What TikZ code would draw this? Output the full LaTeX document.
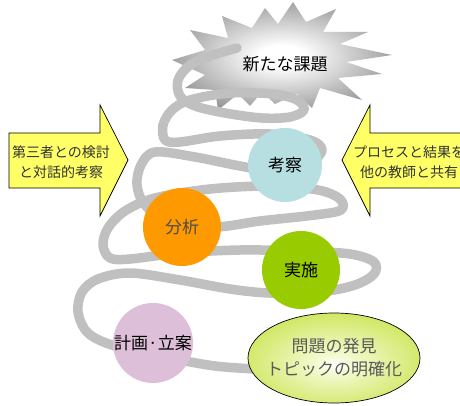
\documentclass[tikz,border=0pt]{standalone}
\usepackage{fontspec}
\setmainfont{Noto Sans CJK JP}
\definecolor{ellouter}{HTML}{C8E34A}
\definecolor{ellmid}{HTML}{F2F9CC}
\pgfdeclareradialshading{starshade}{\pgfpoint{0bp}{0bp}}{color(0bp)=(white); color(5bp)=(white); color(28bp)=(black!42); color(50bp)=(black!55)}
\pgfdeclareradialshading{ellshade}{\pgfpoint{0bp}{-4bp}}{color(0bp)=(white); color(6bp)=(ellmid); color(32bp)=(ellouter); color(50bp)=(ellouter)}
\begin{document}
\begin{tikzpicture}[x=1pt,y=-1pt,
  spiralline/.style={draw=spiralgray,line width=9.5pt,line cap=round,line join=round},
  bubble/.style={circle,inner sep=0pt,text=black,font=\fontsize{17}{20}\selectfont},
  arrowshape/.style={fill=arrowyellow,draw=black,line width=0.7pt,line join=miter},
  arrowtext/.style={align=center,text=darktext,font=\fontsize{14}{20}\selectfont,inner sep=0pt}
]
\definecolor{spiralgray}{HTML}{C0C0C0}
\definecolor{arrowyellow}{HTML}{FFFF66}
\definecolor{darktext}{HTML}{333333}
\definecolor{kousatsu}{HTML}{B7DFE2}
\definecolor{bunseki}{HTML}{FF9900}
\definecolor{jisshi}{HTML}{99CC00}
\definecolor{keikaku}{HTML}{DDBFD9}
\useasboundingbox (0,0) rectangle (460,406);
% star
\shade[shading=starshade]
  (293,2) -- (306,22) -- (336,9) -- (323,32) -- (368,32) -- (340,44) --
  (392,55) -- (346,62) -- (382,74) -- (338,78) -- (362,100) -- (320,88) --
  (312,108) -- (297,94) -- (275,104) -- (262,92) -- (250,106) -- (238,94) --
  (218,110) -- (215,90) -- (185,88) -- (205,75) -- (172,60) -- (205,50) --
  (190,30) -- (228,38) -- (222,16) -- (252,28) -- (265,8) -- (278,24) -- cycle;
% spiral
\draw[spiralline] plot[smooth,tension=0.55] coordinates {
 (255,369) (215,366) (170,358) (115,346) (88,333) (78,312) (82,292) (98,279)
 (130,273) (180,280) (230,289) (270,293) (320,292) (355,285) (374,274) (374,262)
 (350,254) (300,251) (240,250) (180,253) (130,259) (110,258) (103,245) (108,228)
 (125,211) (155,198) (210,189) (270,186) (318,190) (340,199) (341,210) (315,215)
 (260,221) (215,227) (170,222) (145,205) (137,185) (141,165) (155,152) (195,157)
 (240,166) (280,172) (310,163) (322,150) (310,140) (270,134) (220,136) (180,142)
 (165,140) (163,125) (172,110) (190,100) (230,93) (273,94) (297,100) (304,110)
 (290,117) (262,118) (225,113) (195,106) (180,96) (178,80) (190,65) (210,56) (237,48)};
\node[font=\fontsize{17}{20}\selectfont,text=black] (kadai) at (285,64) {新たな課題};
% circles
\node[bubble,fill=kousatsu,minimum size=74pt] (c1) at (285,165) {考察};
\node[bubble,fill=bunseki,minimum size=78pt,text=black!70] (c2) at (182,227) {分析};
\node[bubble,fill=jisshi,minimum size=78pt] (c3) at (301,270) {実施};
\node[bubble,fill=keikaku,minimum size=80pt] (c4) at (153,343) {計画·立案};
% ellipse
\shade[shading=ellshade,draw=black,line width=0.7pt]
  (334,358) ellipse [x radius=86,y radius=45];
\node[align=center,text=black!65,font=\fontsize{17}{23}\selectfont] (hakken) at (334,358) {問題の発見\\トピックの明確化};
% left arrow
\draw[arrowshape] (9,133) -- (100,133) -- (100,105) -- (128,160) -- (100,216) -- (100,188) -- (9,188) -- cycle;
\node[arrowtext] (ltext) at (61,162) {第三者との検討\\と対話的考察};
% right arrow
\draw[arrowshape] (475,133) -- (370,133) -- (370,105) -- (342,160) -- (370,216) -- (370,188) -- (475,188) -- cycle;
\node[arrowtext,anchor=west] (rtext) at (353,162) {プロセスと結果を\\他の教師と共有};
\end{tikzpicture}
\end{document}
